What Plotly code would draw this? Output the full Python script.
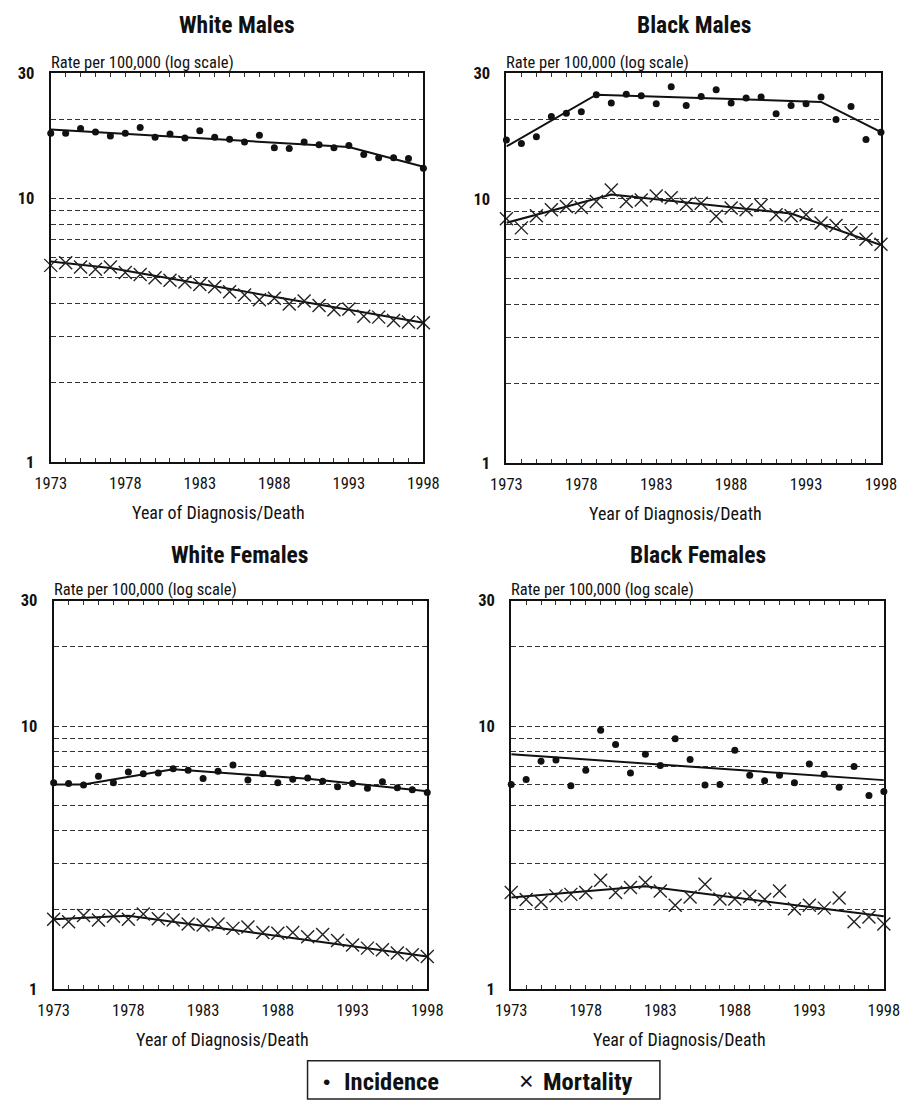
import plotly.graph_objects as go

W, H = 924, 1111

years = list(range(1973, 1999))
xtick_labels = ["1973", "1978", "1983", "1988", "1993", "1998"]
ytick_vals = [1, 2, 3, 4, 5, 6, 7, 8, 9, 10, 20, 30]
ytick_text = ["<b>1</b>", "", "", "", "", "", "", "", "", "<b>10</b>", "", "<b>30</b>"]

panel_titles = ["White Males", "Black Males", "White Females", "Black Females"]

# White Males
wm_inc = [17.7, 17.7, 18.45, 17.9, 17.3, 17.7, 18.6, 17.1, 17.6, 17.0, 18.1, 17.1, 16.8,
          16.4, 17.4, 15.6, 15.5, 16.4, 16.0, 15.6, 15.9, 14.7, 14.3, 14.3, 14.2, 13.05]
wm_mort = [5.58, 5.71, 5.5, 5.39, 5.5, 5.24, 5.15, 5.01, 4.90, 4.83, 4.72, 4.63, 4.43,
           4.31, 4.13, 4.19, 3.98, 4.09, 3.93, 3.79, 3.81, 3.58, 3.55, 3.45, 3.40, 3.38]
wm_inc_trend_x = [1973, 1993, 1998]
wm_inc_trend = [18.3, 15.7, 13.2]
wm_mort_trend_x = [1973, 1977, 1998]
wm_mort_trend = [5.77, 5.45, 3.38]

# Black Males
bm_inc = [16.7, 16.2, 17.2, 20.5, 21.1, 21.4, 24.8, 23.1, 24.9, 24.6, 22.9, 26.6, 22.6,
          24.4, 25.9, 23.1, 24.1, 24.3, 21.0, 22.6, 22.9, 24.3, 20.0, 22.4, 16.8, 17.9]
bm_mort = [8.42, 7.77, 8.64, 9.1, 9.36, 9.28, 9.77, 10.8, 9.77, 9.91, 10.26, 10.1, 9.55,
           9.64, 8.59, 9.23, 9.1, 9.44, 8.72, 8.64, 8.72, 8.11, 7.93, 7.45, 7.03, 6.73]
bm_inc_trend_x = [1973, 1979, 1994, 1998]
bm_inc_trend = [15.8, 24.8, 23.3, 17.9]
bm_mort_trend_x = [1973, 1980, 1992, 1998]
bm_mort_trend = [8.12, 10.4, 8.8, 6.69]

# White Females
wf_inc = [6.09, 6.05, 5.97, 6.45, 6.09, 6.69, 6.59, 6.63, 6.88, 6.79, 6.32, 6.73, 7.12,
          6.23, 6.59, 6.09, 6.28, 6.35, 6.17, 5.88, 6.05, 5.80, 6.14, 5.83, 5.72, 5.59]
wf_mort = [1.84, 1.80, 1.905, 1.83, 1.89, 1.84, 1.93, 1.85, 1.83, 1.765, 1.75, 1.765, 1.70,
           1.72, 1.64, 1.63, 1.64, 1.58, 1.61, 1.53, 1.47, 1.43, 1.41, 1.37, 1.35, 1.33]
wf_inc_trend_x = [1973, 1975, 1981, 1990, 1998]
wf_inc_trend = [6.0, 6.0, 6.85, 6.3, 5.65]
wf_mort_trend_x = [1973, 1978, 1998]
wf_mort_trend = [1.84, 1.90, 1.33]

# Black Females
bf_inc = [6.0, 6.26, 7.35, 7.43, 5.93, 6.79, 9.64, 8.52, 6.63, 7.82, 7.08, 8.95, 7.46,
          5.97, 6.0, 8.09, 6.50, 6.19, 6.50, 6.09, 7.18, 6.56, 5.85, 7.02, 5.45, 5.64]
bf_mort = [2.33, 2.19, 2.14, 2.26, 2.29, 2.33, 2.59, 2.33, 2.43, 2.54, 2.36, 2.08, 2.24,
           2.50, 2.20, 2.20, 2.25, 2.19, 2.36, 2.02, 2.08, 2.03, 2.22, 1.80, 1.88, 1.765]
bf_inc_trend_x = [1973, 1998]
bf_inc_trend = [7.82, 6.23]
bf_mort_trend_x = [1973, 1982, 1998]
bf_mort_trend = [2.23, 2.46, 1.89]

panels = [
    (wm_inc, wm_mort, wm_inc_trend_x, wm_inc_trend, wm_mort_trend_x, wm_mort_trend),
    (bm_inc, bm_mort, bm_inc_trend_x, bm_inc_trend, bm_mort_trend_x, bm_mort_trend),
    (wf_inc, wf_mort, wf_inc_trend_x, wf_inc_trend, wf_mort_trend_x, wf_mort_trend),
    (bf_inc, bf_mort, bf_inc_trend_x, bf_inc_trend, bf_mort_trend_x, bf_mort_trend),
]

# plot-area pixel boxes (left, top, right, bottom)
boxes = [(36, 65, 422, 461), (508, 65, 896, 462), (39, 602, 426, 997), (513, 602, 899, 997)]

NARROW = "Roboto Condensed, Liberation Sans Narrow, Arial Narrow, Liberation Sans, sans-serif"

def px(x):
    return x / W

def py(y):
    return 1 - y / H

fig = go.Figure()
annotations = []
layout = {}

for i, (inc, mort, itx, ity, mtx, mty) in enumerate(panels):
    n = "" if i == 0 else str(i + 1)
    xa, ya = "x" + n, "y" + n
    fig.add_trace(go.Scatter(x=itx, y=ity, mode="lines", line=dict(color="#111", width=2),
                             xaxis=xa, yaxis=ya, showlegend=False, cliponaxis=False))
    fig.add_trace(go.Scatter(x=mtx, y=mty, mode="lines", line=dict(color="#111", width=2),
                             xaxis=xa, yaxis=ya, showlegend=False, cliponaxis=False))
    fig.add_trace(go.Scatter(x=years, y=inc, mode="markers",
                             marker=dict(symbol="circle", size=7, color="#111"),
                             xaxis=xa, yaxis=ya, showlegend=False, cliponaxis=False))
    fig.add_trace(go.Scatter(x=years, y=mort, mode="markers",
                             marker=dict(symbol="x-thin-open", size=13, color="#222",
                                         line=dict(color="#222", width=1.4)),
                             xaxis=xa, yaxis=ya, showlegend=False, cliponaxis=False))
    l, t, r, b = boxes[i]
    layout["xaxis" + n] = dict(
        domain=[px(l), px(r)], anchor=ya, range=[1973, 1998],
        tickvals=years,
        ticktext=[str(y) if str(y) in xtick_labels else "" for y in years],
        ticks="inside", ticklen=4, tickwidth=1, tickcolor="#333",
        showline=True, linecolor="#111", linewidth=2, mirror="allticks",
        showgrid=False, zeroline=False, ticklabelstandoff=5,
        tickfont=dict(family=NARROW, size=16.5, color="#111"),
    )
    layout["yaxis" + n] = dict(
        domain=[py(b), py(t)], anchor=xa, type="log", range=[0, 1.47712],
        tickvals=ytick_vals, ticktext=ytick_text, ticks="",
        showline=True, linecolor="#111", linewidth=2, mirror=True,
        showgrid=True, gridcolor="#333", gridwidth=1, griddash="5px,3px",
        zeroline=False, ticklabelstandoff=11,
        tickfont=dict(family=NARROW, size=16.5, color="#111"),
    )
    cx = (l + r) / 2
    title_y = 16 if i < 2 else 555
    annotations.append(dict(text="<b>" + panel_titles[i] + "</b>", x=px(cx), y=py(title_y),
                            xref="paper", yref="paper", showarrow=False,
                            xanchor="center", yanchor="middle",
                            font=dict(family=NARROW, size=23.5, color="#111")))
    annotations.append(dict(text="Rate per 100,000 (log scale)", x=px(l - 2), y=py(t - 11),
                            xref="paper", yref="paper", showarrow=False,
                            xanchor="left", yanchor="middle",
                            font=dict(family=NARROW, size=16.5, color="#111")))
    annotations.append(dict(text="Year of Diagnosis/Death", x=px(cx - 19), y=py(b + 51),
                            xref="paper", yref="paper", showarrow=False,
                            xanchor="center", yanchor="middle",
                            font=dict(family=NARROW, size=18, color="#111")))

# legend box
legend_items = [("•", "Incidence", 322, 338, 21), ("×", "Mortality", 529, 544, 25)]
for sym, label, sx, tx, ssize in legend_items:
    annotations.append(dict(text=sym, x=px(sx), y=py(1091), xref="paper", yref="paper",
                            showarrow=False, xanchor="center", yanchor="middle",
                            font=dict(family="Liberation Sans, Arial, sans-serif", size=ssize, color="#111")))
    annotations.append(dict(text="<b>" + label + "</b>", x=px(tx), y=py(1091), xref="paper",
                            yref="paper", showarrow=False, xanchor="left", yanchor="middle",
                            font=dict(family=NARROW, size=24.5, color="#111")))

fig.update_layout(
    width=W, height=H, margin=dict(l=0, r=0, t=0, b=0),
    paper_bgcolor="white", plot_bgcolor="white",
    annotations=annotations,
    shapes=[dict(type="rect", xref="paper", yref="paper", x0=px(302), x1=px(667),
                 y0=py(1109), y1=py(1070), line=dict(color="#222", width=1.5))],
    showlegend=False,
    **layout,
)

fig.write_html("out.html", config={"displayModeBar": False},
               post_script="document.body.style.margin='0';document.body.style.overflow='hidden';")
